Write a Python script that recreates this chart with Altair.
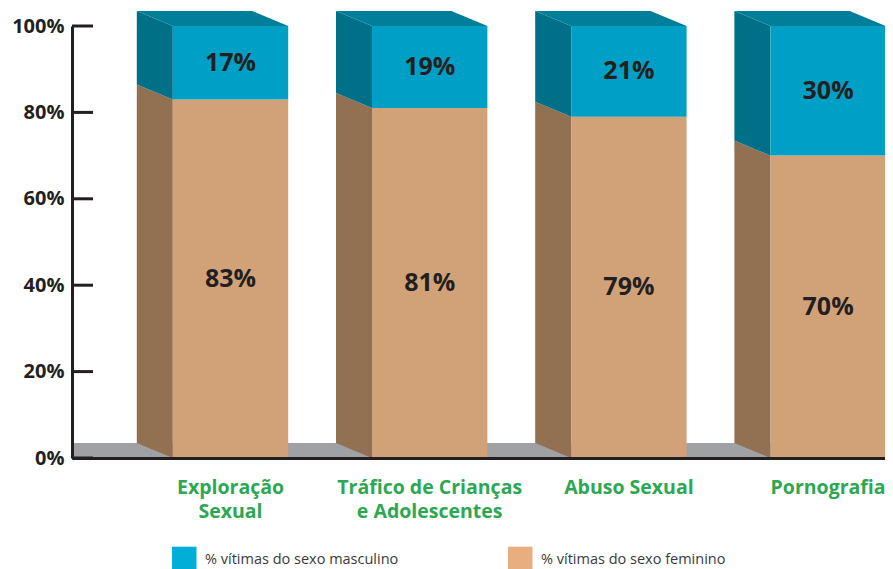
import altair as alt
import pandas as pd

# ---------------- data ----------------
categories = ["Exploração\nSexual", "Tráfico de Crianças\ne Adolescentes", "Abuso Sexual", "Pornografia"]
male = [17, 19, 21, 30]
female = [83, 81, 79, 70]
series = ["% vítimas do sexo masculino", "% vítimas do sexo feminino"]
y_ticks = [0, 20, 40, 60, 80, 100]

# ---------------- style / geometry ----------------
W, H = 813, 432
PAD = {"left": 64, "top": 18, "right": 0, "bottom": 111}
PX_X = 199.2                      # pixels per category step
XMIN = -158.5 / PX_X
XMAX = XMIN + W / PX_X
HW = 57.7 / PX_X                  # half bar width
DX = 36 / PX_X                    # depth (x)
DY = 15 / (H / 100)               # depth (y, data units)

FONT = "Open Sans"
DARK = "#231F20"
face_dom = ["ff", "fm", "sf", "sm", "tm"]
face_rng = ["#D1A278", "#00A0C6", "#927052", "#006F88", "#007E9A"]

# ---------------- build tables ----------------
front, side, top, labels = [], [], [], []
for i, (m, f) in enumerate(zip(male, female)):
    segs = [("f", 0, f), ("m", f, f + m)]
    for s, lo, hi in segs:
        front.append({"x": i - HW, "x2": i + HW, "y": lo, "y2": hi, "face": "f" + s})
        side.append({"key": f"{i}{s}", "face": "s" + s, "x": i - HW - DX, "y": lo + DY, "y2": hi + DY})
        side.append({"key": f"{i}{s}", "face": "s" + s, "x": i - HW, "y": lo, "y2": hi})
        labels.append({"x": i, "y": (lo + hi) / 2, "t": f"{hi - lo}%"})
    tot = f + m
    top.append({"key": f"{i}", "face": "tm", "y": tot, "x": i - HW, "x2": i + HW})
    top.append({"key": f"{i}", "face": "tm", "y": tot + DY, "x": i - HW - DX, "x2": i + HW - DX})

df_front = pd.DataFrame(front)
df_side = pd.DataFrame(side)
df_top = pd.DataFrame(top)
df_lab = pd.DataFrame(labels)
df_cat = pd.DataFrame({"x": list(range(len(categories))), "c": categories})
df_ticks = pd.DataFrame({"v": y_ticks})

xs = alt.Scale(domain=[XMIN, XMAX], nice=False, zero=False)
ys = alt.Scale(domain=[0, 100], nice=False, zero=False)
X_AX = alt.Axis(title=None, labels=False, ticks=False, grid=False, domainColor=DARK,
                domainWidth=3, zindex=1)
Y_AX = alt.Axis(title=None, values=y_ticks, labelExpr="datum.value + '%'", ticks=False, grid=False,
                domainColor=DARK, domainWidth=3, labelFont=FONT, labelFontWeight="bold",
                labelFontSize=20, labelColor=DARK, labelPadding=8, zindex=1)
col = alt.Color("face:N", scale=alt.Scale(domain=face_dom, range=face_rng), legend=None)

floor = alt.Chart(pd.DataFrame({"a": [0]})).mark_rect(color="#A0A1A4").encode(
    x=alt.value(0), x2=alt.value(W),
    y=alt.Y(datum=0, type="quantitative", scale=ys, axis=Y_AX), y2=alt.Y2(datum=DY))

front_l = alt.Chart(df_front).mark_rect().encode(
    x=alt.X("x:Q", scale=xs, axis=X_AX), x2="x2:Q",
    y=alt.Y("y:Q", scale=ys, axis=Y_AX), y2="y2:Q", color=col)

side_l = alt.Chart(df_side).mark_area(orient="vertical").encode(
    x=alt.X("x:Q", scale=xs, axis=X_AX),
    y=alt.Y("y:Q", scale=ys, axis=Y_AX), y2="y2:Q", color=col, detail="key:N")

top_l = alt.Chart(df_top).mark_area(orient="horizontal").encode(
    y=alt.Y("y:Q", scale=ys, axis=Y_AX),
    x=alt.X("x:Q", scale=xs, axis=X_AX), x2="x2:Q", color=col, detail="key:N")

ticks_l = alt.Chart(df_ticks).mark_rule(color=DARK, strokeWidth=3).encode(
    y=alt.Y("v:Q", scale=ys, axis=Y_AX), x=alt.value(0), x2=alt.value(21))

vals_l = alt.Chart(df_lab).mark_text(font=FONT, fontWeight="bold", fontSize=25, color=DARK,
                                     baseline="middle", align="center").encode(
    x=alt.X("x:Q", scale=xs, axis=X_AX), y=alt.Y("y:Q", scale=ys, axis=Y_AX), text="t:N")

cats_l = alt.Chart(df_cat).mark_text(font=FONT, fontWeight="bold", fontSize=19.5, color="#2CA752",
                                     baseline="alphabetic", align="center", lineBreak="\n",
                                     lineHeight=24).encode(
    x=alt.X("x:Q", scale=xs, axis=X_AX), y=alt.value(H + 35.5), text="c:N")

leg_df = pd.DataFrame({"s": series})
leg_layers = []
for s, c, x0 in [(series[0], "#00AED8", 100), (series[1], "#E8AE80", 436)]:
    d = leg_df[leg_df.s == s]
    leg_layers.append(alt.Chart(d).mark_rect(color=c).encode(
        x=alt.value(x0), x2=alt.value(x0 + 24.5), y=alt.value(520.7), y2=alt.value(546)))
    leg_layers.append(alt.Chart(d).mark_text(font=FONT, fontSize=14.5, color="#3A3A3A",
                                             align="left", baseline="middle").encode(
        x=alt.value(x0 + 33), y=alt.value(533.5), text="s:N"))

chart = alt.layer(floor, side_l, front_l, top_l, ticks_l, vals_l, cats_l, *leg_layers).properties(
    width=W, height=H, autosize=alt.AutoSizeParams(type="none"), padding=PAD
).configure_view(stroke=None)

chart.save("out.html", embed_options={"renderer": "svg", "actions": False})
